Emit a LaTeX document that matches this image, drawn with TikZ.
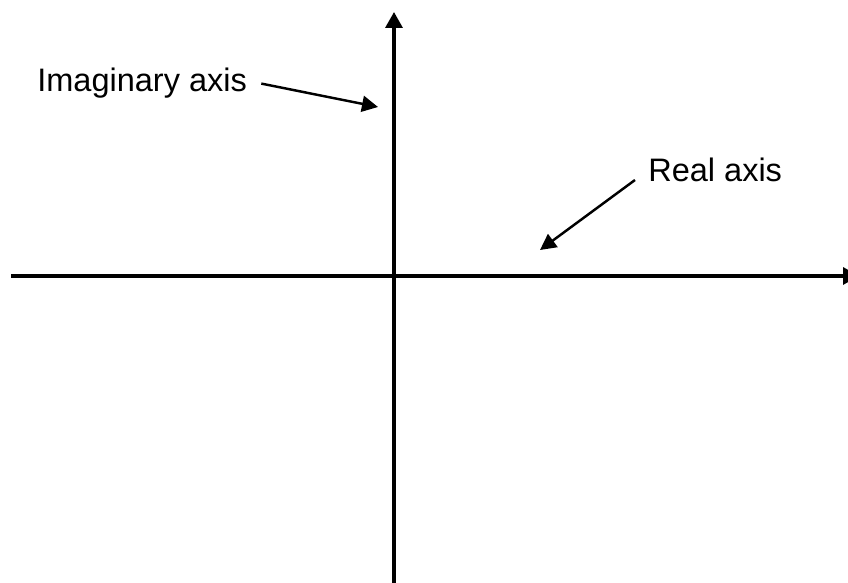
\documentclass[tikz,border=0pt]{standalone}
\usepackage{fontspec}
\setmainfont{Liberation Sans}
\usetikzlibrary{arrows.meta}

\begin{document}
\begin{tikzpicture}[every node/.style={font=\fontsize{18.5}{22}\selectfont, inner sep=0pt},
  axis/.style={line width=1.9pt, -{Triangle[length=0.32cm,width=0.34cm]}},
  pointer/.style={line width=1.4pt, -{Triangle[length=0.32cm,width=0.32cm]}}]
\useasboundingbox (0,0) rectangle (16.96,11.66);
% axes
\coordinate (ybot) at (7.88,0);
\coordinate (ytop) at (7.88,11.42);
\coordinate (xleft) at (0.22,6.14);
\coordinate (xright) at (17.18,6.14);
\draw[axis] (ybot) -- (ytop);
\draw[axis] (xleft) -- (xright);
% labels
\node[anchor=base west] (imag) at (0.74,9.82) {Imaginary axis};
\coordinate (imagtip) at (7.56,9.52);
\draw[pointer] ([xshift=0.28cm]imag.east) -- (imagtip);
\node[anchor=base west] (real) at (12.96,8.02) {Real axis};
\coordinate (realtip) at (10.8,6.66);
\draw[pointer] ([shift={(-0.26cm,0.04cm)}]real.base west) -- (realtip);
\end{tikzpicture}
\end{document}
